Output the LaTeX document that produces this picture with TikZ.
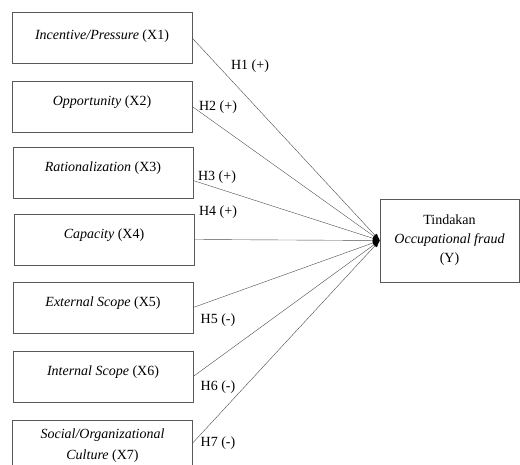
\documentclass[tikz,border=0pt]{standalone}
\usepackage{fontspec}
\setmainfont{Liberation Serif}
\usetikzlibrary{arrows.meta}

\begin{document}
\begin{tikzpicture}[x=1pt, y=-1pt,
  varbox/.style={draw=black!65, minimum width=180pt, minimum height=51pt,
    align=center, inner sep=2pt, font=\fontsize{14}{21}\selectfont},
  raised/.style={text depth=11pt},
  link/.style={draw=black!70, -{Latex[length=7pt,width=5pt,black]}},
  hyp/.style={font=\fontsize{14}{16}\selectfont, inner sep=1pt}]

  \useasboundingbox (0,0) rectangle (520,465);

  % Independent variables
  \node[varbox, text depth=7pt] (X1) at (102,38) {\textit{Incentive/Pressure} (X1)};
  \node[varbox, raised] (X2) at (102,106.5) {\textit{Opportunity} (X2)};
  \node[varbox, raised] (X3) at (103,172.5) {\textit{Rationalization} (X3)};
  \node[varbox, raised] (X4) at (104,239.5) {\textit{Capacity} (X4)};
  \node[varbox, raised] (X5) at (103,307.5) {\textit{External Scope} (X5)};
  \node[varbox, raised] (X6) at (103,376.5) {\textit{Internal Scope} (X6)};
  \node[varbox, minimum height=52pt] (X7) at (102.5,446)
    {\textit{Social/Organizational}\\\textit{Culture} (X7)};

  % Dependent variable
  \node[varbox, minimum width=139pt, minimum height=83pt,
        font=\fontsize{14}{19}\selectfont] (Y) at (449.5,240.5)
    {Tindakan\\\textit{Occupational fraud}\\(Y)};

  % Paths
  \draw[link] (X1.east) -- (Y.west);
  \draw[link] (X2.east) -- (Y.west);
  \draw[link] ([yshift=-8pt]X3.east) -- (Y.west);
  \draw[link] (X4.east) -- (Y.west);
  \draw[link] (X5.east) -- (Y.west);
  \draw[link] (X6.east) -- (Y.west);
  \draw[link] ([yshift=3pt]X7.east) -- (Y.west);

  % Hypothesis labels
  \node[hyp] (H1) at (250,66)  {H1 (+)};
  \node[hyp] (H2) at (218,107) {H2 (+)};
  \node[hyp] (H3) at (217,177) {H3 (+)};
  \node[hyp] (H4) at (218,212) {H4 (+)};
  \node[hyp] (H5) at (218,320) {H5 (-)};
  \node[hyp] (H6) at (218,387) {H6 (-)};
  \node[hyp] (H7) at (218,443) {H7 (-)};

\end{tikzpicture}
\end{document}
